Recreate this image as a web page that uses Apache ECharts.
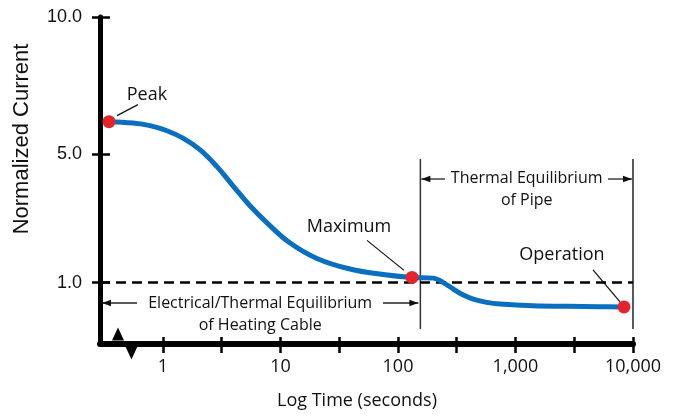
<!DOCTYPE html>
<html>
<head>
<meta charset="utf-8">
<script src="https://cdn.jsdelivr.net/npm/echarts@6/dist/echarts.min.js"></script>
<style>
  html, body { margin: 0; padding: 0; background: #fff; }
  #chart { width: 678px; height: 418px; }
</style>
</head>
<body>
<div id="chart"></div>
<script>
// Start-up current of a self-regulating heating cable over (log) time
const curveTime = [0.347, 0.555, 0.775, 1.08, 1.48, 2.06, 2.88, 3.94, 5.50, 7.68, 12.0, 20.4, 39.0, 74.5,
                   131.6, 200, 243, 296, 360, 437, 569, 738, 1418, 2727, 5237, 8383];
const curveCurrent = [6.13, 6.08, 5.99, 5.81, 5.55, 5.15, 4.57, 3.93, 3.28, 2.74, 2.13, 1.67, 1.37, 1.22,
                      1.14, 1.12, 1.00, 0.83, 0.68, 0.58, 0.50, 0.46, 0.42, 0.41, 0.40, 0.395];

// Highlighted states along the curve (indices into the curve arrays)
const keyNames = ['Peak', 'Maximum', 'Operation'];
const keyIndex = [0, 14, 25];

// Axis ticks and labels
const timeTicks = [1, 3.162, 10, 31.62, 100, 316.2, 1000, 3162, 10000];
const timeLabels = [1, 10, 100, 1000, 10000];
const currentLabels = [1, 5, 10];
const timeRange = [0.291, 10000];

// Reference level and the two equilibrium phases
const referenceCurrent = 1.0;
const phaseBounds = [155, 10000];
const phaseTitles = [['Electrical/Thermal Equilibrium', 'of Heating Cable'], ['Thermal Equilibrium', 'of Pipe']];

// Axis break marks near the origin
const breakTimes = [0.414, 0.539];

// The current axis is compressed with a power scale
const Y_EXP = 0.84;
const sy = v => Math.pow(v, Y_EXP);
const unSy = p => Math.pow(p, 1 / Y_EXP);
const lg = Math.log10;
const Y_MIN = -0.368;
const Y_MAX = sy(10);

const BLUE = '#0a6fc0';
const RED = '#e5232a';
const INK = '#111';
const SANS = '"Open Sans", sans-serif';
const HELV = '"Liberation Sans", Arial, sans-serif';

const chart = echarts.init(document.getElementById('chart'), null, { renderer: 'canvas' });

const xBase = {
  type: 'value', gridIndex: 0, position: 'bottom',
  min: lg(timeRange[0]), max: lg(timeRange[1]),
  splitLine: { show: false }
};
const yBase = {
  type: 'value', gridIndex: 0, position: 'left',
  min: Y_MIN, max: Y_MAX, splitLine: { show: false }
};

chart.setOption({
  animation: false,
  backgroundColor: '#fff',
  grid: { left: 100, top: 17, width: 533, height: 327, containLabel: false, outerBoundsMode: 'none' },
  xAxis: [
    Object.assign({}, xBase, {
      axisLine: { show: true, onZero: false, lineStyle: { color: '#000', width: 6 } },
      axisTick: { show: true, inside: false, length: 9, customValues: timeTicks.map(lg),
                  lineStyle: { color: '#000', width: 2.5 } },
      axisLabel: {
        show: true, customValues: timeLabels.map(lg), margin: 14,
        fontFamily: SANS, fontSize: 18, color: INK,
        formatter: v => Math.round(Math.pow(10, v)).toLocaleString('en-US')
      }
    }),
    Object.assign({}, xBase, {
      axisLine: { show: false, onZero: false },
      axisTick: { show: true, inside: true, length: 7, customValues: timeTicks.map(lg),
                  lineStyle: { color: '#000', width: 2.5 } },
      axisLabel: { show: false }
    })
  ],
  yAxis: [
    Object.assign({}, yBase, {
      axisLine: { show: true, onZero: false, lineStyle: { color: '#000', width: 5 } },
      axisTick: { show: true, inside: false, length: 8, customValues: currentLabels.map(sy),
                  lineStyle: { color: '#000', width: 2.5 } },
      axisLabel: {
        show: true, customValues: currentLabels.map(sy), margin: 18,
        fontFamily: HELV, fontSize: 18, color: INK,
        formatter: p => unSy(p).toFixed(1)
      }
    }),
    Object.assign({}, yBase, {
      axisLine: { show: false, onZero: false },
      axisTick: { show: true, inside: true, length: 10, customValues: currentLabels.map(sy),
                  lineStyle: { color: '#000', width: 2.5 } },
      axisLabel: { show: false }
    })
  ],
  series: [
    {
      type: 'line',
      xAxisIndex: 0, yAxisIndex: 0,
      data: curveTime.map((t, i) => [lg(t), sy(curveCurrent[i])]),
      smooth: 0.4,
      showSymbol: false,
      symbol: 'none',
      lineStyle: { color: BLUE, width: 5, cap: 'round' },
      z: 3,
      markLine: {
        silent: true,
        symbol: 'none',
        label: { show: false },
        lineStyle: { color: '#000', width: 2.5, type: [10, 6] },
        data: [{ yAxis: sy(referenceCurrent) }],
        z: 2
      }
    },
    {
      type: 'scatter',
      xAxisIndex: 0, yAxisIndex: 0,
      data: keyIndex.map((k, i) => ({ name: keyNames[i], value: [lg(curveTime[k]), sy(curveCurrent[k])] })),
      symbol: 'circle',
      symbolSize: 13,
      itemStyle: { color: RED, opacity: 1 },
      z: 5
    },
    {
      type: 'scatter',
      xAxisIndex: 0, yAxisIndex: 0,
      data: breakTimes.map((t, i) => ({
        value: [lg(t), Y_MIN],
        symbolRotate: i === 0 ? 0 : 180,
        symbolOffset: i === 0 ? [0, -10] : [0, 9]
      })),
      symbol: 'triangle',
      symbolSize: [12, 13],
      itemStyle: { color: '#000', opacity: 1 },
      z: 6
    }
  ]
});

// Annotations placed from the axes' own pixel mapping
function px(t, v) { return chart.convertToPixel({ xAxisIndex: 0, yAxisIndex: 0 }, [lg(t), sy(v)]); }
function pxX(t) { return chart.convertToPixel({ xAxisIndex: 0 }, lg(t)); }

const axisX = pxX(timeRange[0]);
const axisY = chart.convertToPixel({ yAxisIndex: 0 }, Y_MIN);
const gridTop = chart.convertToPixel({ yAxisIndex: 0 }, Y_MAX);
const xL = pxX(phaseBounds[0]);
const xR = pxX(phaseBounds[1]);

const g = [];
const thin = { stroke: '#222', lineWidth: 1.3 };

function text(x, y, s, size, family, extra) {
  g.push(Object.assign({
    type: 'text', x: x, y: y, silent: true,
    style: { text: s, fill: INK, font: size + 'px ' + family, textAlign: 'center', textVerticalAlign: 'middle' }
  }, extra || {}));
}
function line(x1, y1, x2, y2, st) {
  g.push({ type: 'line', silent: true, shape: { x1, y1, x2, y2 }, style: Object.assign({}, st || thin) });
}
function arrow(xFrom, xTo, y) {
  line(xFrom, y, xTo, y);
  const d = xTo > xFrom ? 1 : -1;
  g.push({ type: 'polygon', silent: true,
           shape: { points: [[xTo, y], [xTo - d * 9, y - 3.2], [xTo - d * 9, y + 3.2]] },
           style: { fill: '#111' } });
}

// Phase boundaries
const vTop = gridTop + 142, vBot = axisY - 15;
line(xL, vTop, xL, vBot, { stroke: '#333', lineWidth: 1.5 });
line(xR, vTop, xR, vBot, { stroke: '#222', lineWidth: 1.5 });

// Heating-cable equilibrium span
const c1 = (axisX + xL) / 2;
text(c1, 303, phaseTitles[0][0], 16, SANS);
text(c1, 325, phaseTitles[0][1], 16, SANS);
arrow(137, axisX + 2, 303);
arrow(383, xL - 2, 303);

// Pipe equilibrium span
const c2 = (xL + xR) / 2;
text(c2, 178, phaseTitles[1][0], 16, SANS);
text(c2, 200, phaseTitles[1][1], 16, SANS);
arrow(445, xL + 1, 179);
arrow(608, xR - 1, 179);

// Point callouts: label offset and leader line
const callouts = [
  { label: [38, -27], lead: [[8, -6], [29, -17]] },
  { label: [-63, -51], lead: [[-45, -37], [-8, -7]] },
  { label: [-62, -52], lead: [[-31, -37], [-4, -5]] }
];
keyIndex.forEach((k, i) => {
  const p = px(curveTime[k], curveCurrent[k]);
  const c = callouts[i];
  text(p[0] + c.label[0], p[1] + c.label[1], keyNames[i], 18, SANS);
  line(p[0] + c.lead[0][0], p[1] + c.lead[0][1], p[0] + c.lead[1][0], p[1] + c.lead[1][1], { stroke: '#111', lineWidth: 1.2 });
});

// Axis titles
text(357, 401, 'Log Time (seconds)', 18, SANS);
text(22, 139, 'Normalized Current', 22, HELV, { rotation: Math.PI / 2 });

chart.setOption({ graphic: g });
</script>
</body>
</html>
